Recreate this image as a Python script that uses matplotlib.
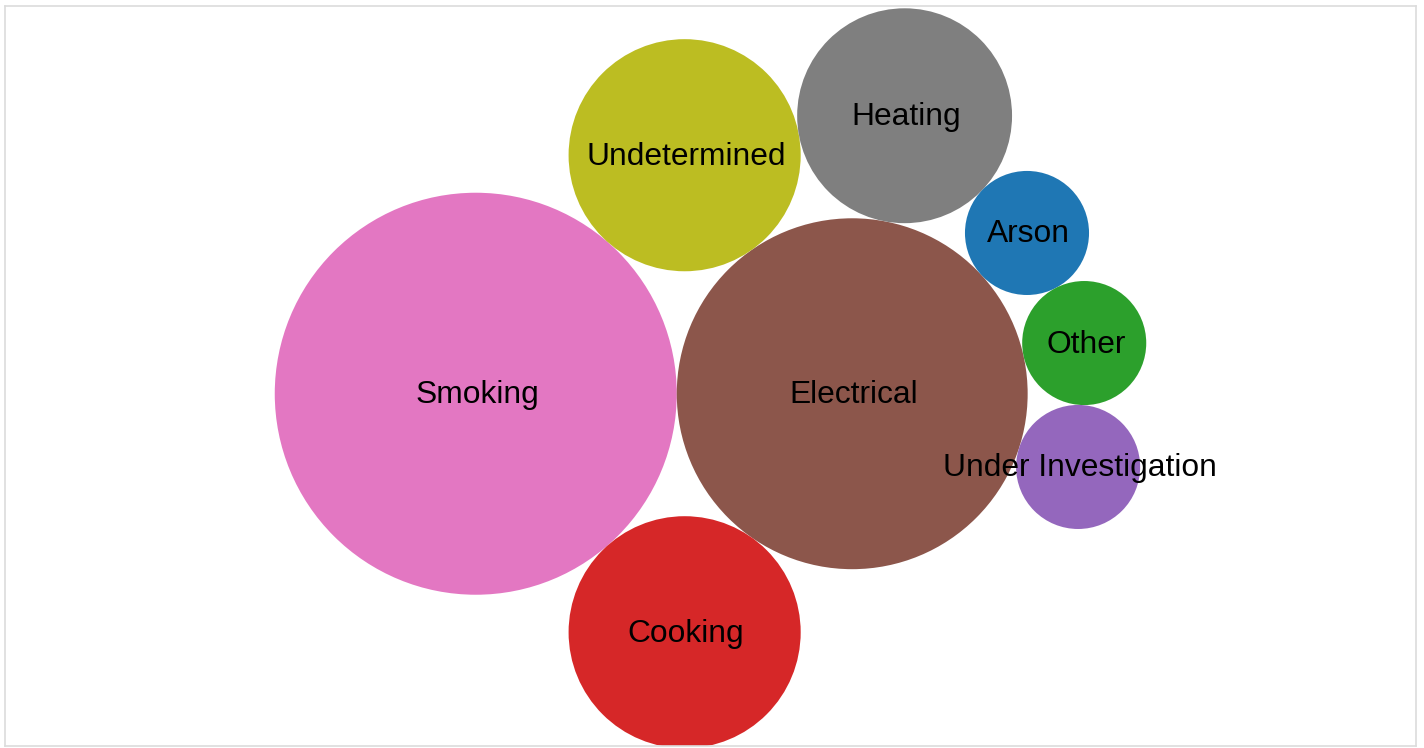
import numpy as np
import matplotlib
matplotlib.use("Agg")
import matplotlib.pyplot as plt
from matplotlib.patches import Circle
from matplotlib.transforms import offset_copy

# Data
causes = ["Smoking", "Electrical", "Undetermined", "Cooking", "Heating",
          "Arson", "Other", "Under Investigation"]
counts = [21, 16, 7, 7, 6, 2, 2, 2]
colors = ["#e377c2", "#8c564b", "#bcbd22", "#d62728", "#7f7f7f",
          "#1f77b4", "#2ca02c", "#9467bd"]
# packing structure: each bubble rests against two bubbles placed earlier
anchors = [(), ("Smoking",), ("Smoking", "Electrical"), ("Smoking", "Electrical"),
           ("Electrical", "Undetermined"), ("Heating", "Electrical"),
           ("Arson", "Electrical"), ("Other", "Electrical")]

radii = {c: np.sqrt(v) for c, v in zip(causes, counts)}
pos = {}


def overlaps(p, r):
    for name, q in pos.items():
        if np.hypot(p[0] - q[0], p[1] - q[1]) < radii[name] + r - 1e-6:
            return True
    return False


for cause, anc in zip(causes, anchors):
    r = radii[cause]
    if len(anc) == 0:
        pos[cause] = (0.0, 0.0)
        continue
    if len(anc) == 1:
        a = pos[anc[0]]
        pos[cause] = (a[0] + radii[anc[0]] + r, a[1])
        continue
    A = np.array(pos[anc[0]]); B = np.array(pos[anc[1]])
    d1 = radii[anc[0]] + r; d2 = radii[anc[1]] + r
    D = np.linalg.norm(B - A)
    u = (B - A) / D
    a = (d1**2 - d2**2 + D**2) / (2 * D)
    h = np.sqrt(max(d1**2 - a**2, 0))
    n = np.array([-u[1], u[0]])
    cands = [A + a * u + h * n, A + a * u - h * n]
    valid = [c for c in cands if not overlaps(c, r)]
    if not valid:
        valid = cands
    best = max(valid, key=lambda c: c[1])
    pos[cause] = (best[0], best[1])

W, H = 1424, 748
fig = plt.figure(figsize=(W / 100, H / 100), dpi=100)
ax_h_px = 740
ax = fig.add_axes([5 / W, 2 / H, 1411 / W, ax_h_px / H])

for cause, col in zip(causes, colors):
    x, y = pos[cause]
    ax.add_patch(Circle((x, y), radii[cause], facecolor=col, edgecolor="none"))

txt_tr = offset_copy(ax.transData, fig=fig, x=1.5, y=-1.5, units="dots")
for cause in causes:
    x, y = pos[cause]
    ax.text(x, y, cause, ha="center", va="center", fontsize=22.9,
            family="Liberation Sans", color="black", transform=txt_tr)

xs = [pos[c][0] for c in causes]; ys = [pos[c][1] for c in causes]
rs = [radii[c] for c in causes]
xmin = min(x - r for x, r in zip(xs, rs)); xmax = max(x + r for x, r in zip(xs, rs))
ymin = min(y - r for y, r in zip(ys, rs)); ymax = max(y + r for y, r in zip(ys, rs))
shift = 2.3 / ax_h_px * (ymax - ymin)
ax.set_xlim(xmin, xmax)
ax.set_ylim(ymin + shift, ymax + shift)
ax.set_aspect("equal", adjustable="datalim")
ax.set_xticks([]); ax.set_yticks([])
for s in ax.spines.values():
    s.set_color("#dcdcdc")
    s.set_linewidth(1.2)

fig.savefig("out.png", dpi=100, facecolor="white")
